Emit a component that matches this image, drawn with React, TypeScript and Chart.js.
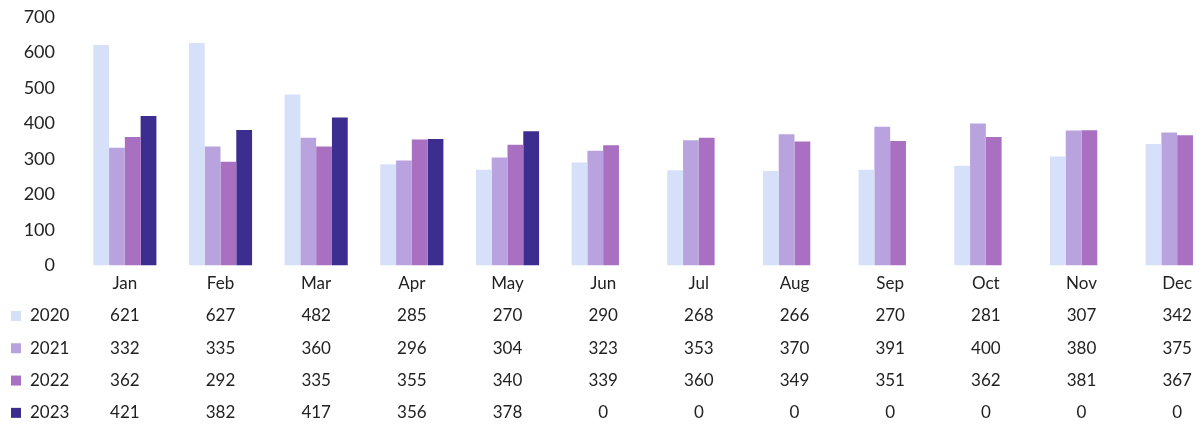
import React, { useEffect, useRef } from "react";
import { Chart, registerables } from "chart.js";

Chart.register(...registerables);

const months = ["Jan", "Feb", "Mar", "Apr", "May", "Jun", "Jul", "Aug", "Sep", "Oct", "Nov", "Dec"];
const years = ["2020", "2021", "2022", "2023"];
const v2020 = [621, 627, 482, 285, 270, 290, 268, 266, 270, 281, 307, 342];
const v2021 = [332, 335, 360, 296, 304, 323, 353, 370, 391, 400, 380, 375];
const v2022 = [362, 292, 335, 355, 340, 339, 360, 349, 351, 362, 381, 367];
const v2023 = [421, 382, 417, 356, 378, 0, 0, 0, 0, 0, 0, 0];
const yMin = 0;
const yMax = 700;
const yStep = 100;

const colors = ["#d6e0f8", "#b9a3de", "#a96fc1", "#3b2e8e"];
const FONT = "Lato, 'Open Sans', sans-serif";
const TEXT = "#222222";
const LINE_H = 32.3;
const TABLE_FONT = 17;

export default function App() {
  const ref = useRef<HTMLCanvasElement>(null);

  useEffect(() => {
    if (!ref.current) return;
    const series = [v2020, v2021, v2022, v2023];
    const labels = months.map((m, i) => [m, ...series.map((s) => String(s[i]))]);

    const rowLegend = {
      id: "rowLegend",
      afterDraw(chart: any) {
        const ctx = chart.ctx;
        const xs = chart.scales.x;
        const pad = xs.options.ticks.padding;
        ctx.save();
        ctx.font = `${TABLE_FONT}px ${FONT}`;
        ctx.textBaseline = "middle";
        ctx.textAlign = "left";
        years.forEach((y, i) => {
          const cy = xs.top + pad + LINE_H * (i + 1.5);
          ctx.fillStyle = colors[i];
          ctx.fillRect(11, cy - 5, 10, 10);
          ctx.fillStyle = TEXT;
          ctx.fillText(y, 30, cy);
        });
        ctx.restore();
      },
    };

    const chart = new Chart(ref.current, {
      type: "bar",
      data: {
        labels,
        datasets: years.map((y, i) => ({
          label: y,
          data: series[i],
          backgroundColor: colors[i],
          categoryPercentage: 0.66,
          barPercentage: 1,
        })),
      },
      options: {
        animation: false,
        responsive: false,
        layout: { padding: { top: 17, right: 5, left: 0, bottom: 0 } },
        plugins: { legend: { display: false }, tooltip: { enabled: false } },
        scales: {
          x: {
            grid: { display: false, drawTicks: false },
            border: { display: false },
            ticks: {
              padding: 2,
              color: TEXT,
              maxRotation: 0,
              autoSkip: false,
              font: { family: FONT, size: TABLE_FONT, lineHeight: `${LINE_H}px` },
            },
          },
          y: {
            min: yMin,
            max: yMax,
            grid: { display: false, drawTicks: false },
            border: { display: false },
            ticks: { stepSize: yStep, padding: 22, color: TEXT, font: { family: FONT, size: 18 } },
            afterFit(s: any) {
              s.width = 77;
              s.paddingTop = 10;
              s.paddingBottom = 10;
            },
          },
        },
      },
      plugins: [rowLegend],
    } as any);
    return () => chart.destroy();
  }, []);

  return (
    <div
      style={{
        position: "fixed",
        left: 0,
        top: 0,
        width: 1201,
        height: 428,
        overflow: "hidden",
        background: "#fff",
      }}
    >
      <canvas ref={ref} width={1230} height={431} style={{ display: "block" }} />
    </div>
  );
}
